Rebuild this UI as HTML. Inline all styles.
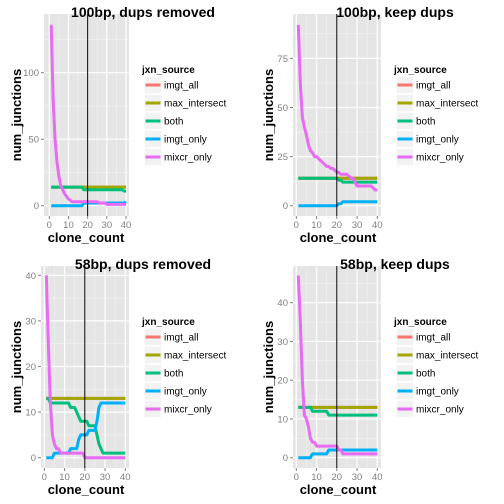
<!DOCTYPE html>
<html><head><meta charset="utf-8"><style>
body{margin:0;background:#fff;}
svg{display:block;font-family:"Liberation Sans",sans-serif;}
</style></head><body>
<svg id="chart" width="504" height="504" xmlns="http://www.w3.org/2000/svg"></svg>
<script>
const seriesNames = ["imgt_all","max_intersect","both","imgt_only","mixcr_only"];
const seriesColors = ["#F8766D","#A3A500","#00BF7D","#00B0F6","#E76BF3"];
const xTicks = [0,10,20,30,40];
const clones = Array.from({length:40},(_,i)=>i+1);

// Panel 1: 100bp, dups removed
const p1_max = Array(40).fill(14);
const p1_both = [14,14,14,14,14,14,14,14,14,14,14,14,14,14,14,14,14,12,12,12,12,12,12,12,12,12,12,12,12,12,12,12,12,12,12,12,12,12,11,11];
const p1_imgt = [0,0,0,0,0,0,0,0,0,0,0,0,0,0,0,0,0,2,2,2,2,2,2,2,2,2,2,2,2,2,2,2,2,2,2,2,2,2,2,3];
const p1_mixcr = [136,80,50,33,22,15,12,9,7,5,4,3,3,3,3,3,3,3,3,3,3,3,3,3,3,2,2,2,2,1,1,1,1,1,1,1,1,1,1,1];
const p1_yTicks = [0,50,100];
// Panel 2: 100bp, keep dups
const p2_max = Array(40).fill(14);
const p2_both = [14,14,14,14,14,14,14,14,14,14,14,14,14,14,14,14,14,14,14,14,13,13,12,12,12,12,12,12,12,12,12,12,12,12,12,12,12,12,12,12];
const p2_imgt = [0,0,0,0,0,0,0,0,0,0,0,0,0,0,0,0,0,0,0,0,1,1,2,2,2,2,2,2,2,2,2,2,2,2,2,2,2,2,2,2];
const p2_mixcr = [92,62,45,40,36,31,28,27,25,25,24,23,22,21,20,20,19,19,18,17,17,16,16,16,16,15,14,14,12,10,10,10,10,10,10,10,10,9,8,8];
const p2_yTicks = [0,25,50,75];
// Panel 3: 58bp, dups removed
const p3_max = Array(40).fill(13);
const p3_both = [13,13,12,12,12,12,12,12,12,12,12,12,11,11,11,10,9,8,8,8,8,7,7,7,7,5,3,2,1,1,1,1,1,1,1,1,1,1,1,1];
const p3_imgt = [0,0,0,0,1,1,1,1,1,1,1,1,2,2,2,2,4,5,5,5,5,6,6,6,6,8,11,12,12,12,12,12,12,12,12,12,12,12,12,12];
const p3_mixcr = [40,25,12,5,3,2,2,1,1,1,1,1,1,1,1,1,1,1,1,0,0,0,0,0,0,0,0,0,0,0,0,0,0,0,0,0,0,0,0,0];
const p3_yTicks = [0,10,20,30,40];
// Panel 4: 58bp, keep dups
const p4_max = Array(40).fill(13);
const p4_both = [13,13,13,13,13,13,13,12,12,12,12,12,12,12,12,11,11,11,11,11,11,11,11,11,11,11,11,11,11,11,11,11,11,11,11,11,11,11,11,11];
const p4_imgt = [0,0,0,0,0,0,0,1,1,1,1,1,1,1,1,2,2,2,2,2,2,2,2,2,2,2,2,2,2,2,2,2,2,2,2,2,2,2,2,2];
const p4_mixcr = [47,35,20,11,10,8,5,4,4,3,3,3,3,3,3,3,3,3,3,3,2,2,1,1,1,1,1,1,1,1,1,1,1,1,1,1,1,1,1,1];
const p4_yTicks = [0,10,20,30,40];

const panels = [
 {title:"100bp, dups removed",ox:0,oy:0,left:44,x0:49.3,x40:126,y0:205.7,yPer:1.33,yMinor:25,ticks:p1_yTicks,data:[p1_max,p1_max,p1_both,p1_imgt,p1_mixcr],name:"panel-100bp-dups-removed"},
 {title:"100bp, keep dups",ox:252,oy:0,left:41,x0:44.3,x40:125.3,y0:205.7,yPer:49.1/25,yMinor:12.5,ticks:p2_yTicks,data:[p2_max,p2_max,p2_both,p2_imgt,p2_mixcr],name:"panel-100bp-keep-dups"},
 {title:"58bp, dups removed",ox:0,oy:252,left:41,x0:44.3,x40:125.3,y0:205.7,yPer:4.56,yMinor:5,ticks:p3_yTicks,data:[p3_max,p3_max,p3_both,p3_imgt,p3_mixcr],name:"panel-58bp-dups-removed"},
 {title:"58bp, keep dups",ox:252,oy:252,left:41,x0:44.3,x40:125.3,y0:205.7,yPer:3.875,yMinor:5,ticks:p4_yTicks,data:[p4_max,p4_max,p4_both,p4_imgt,p4_mixcr],name:"panel-58bp-keep-dups"}
];
const NS="http://www.w3.org/2000/svg";
const svg=document.getElementById('chart');
function mk(tag,attrs,parent){const e=document.createElementNS(NS,tag);for(const k in attrs)e.setAttribute(k,attrs[k]);parent.appendChild(e);return e;}

panels.forEach(p=>{
  const g=mk('g',{transform:`translate(${p.ox},${p.oy})`},svg);
  
  
  const top=14,bottom=216,right=129;
  const sx=v=>p.x0+(p.x40-p.x0)*v/40;
  const sy=v=>p.y0-v*p.yPer;
  const bg=mk('rect',{x:p.left,y:top,width:right-p.left,height:bottom-top,fill:'#E5E5E5'},g);
  
  
  // minor grid
  for(let v=-5;v<=45;v+=10){const x=sx(v);if(x>p.left&&x<right)mk('line',{x1:x,x2:x,y1:top,y2:bottom,stroke:'#F2F2F2','stroke-width':0.6},g);}
  const maxT=p.ticks[p.ticks.length-1];
  for(let v=-p.yMinor;v<=maxT+2*p.yMinor;v+=p.yMinor){const y=sy(v);if(y>top&&y<bottom)mk('line',{x1:p.left,x2:right,y1:y,y2:y,stroke:'#F2F2F2','stroke-width':0.6},g);}
  // major grid + ticks
  xTicks.forEach(v=>{const x=sx(v);
    mk('line',{x1:x,x2:x,y1:top,y2:bottom,stroke:'#fff','stroke-width':1.2},g);
    mk('line',{x1:x,x2:x,y1:bottom,y2:bottom+3,stroke:'#7f7f7f','stroke-width':1},g);
    const t=mk('text',{x:x,y:bottom+12,'text-anchor':'middle','font-size':9.5,fill:'#7f7f7f'},g);t.textContent=v;
    
    
  });
  p.ticks.forEach(v=>{const y=sy(v);
    mk('line',{x1:p.left,x2:right,y1:y,y2:y,stroke:'#fff','stroke-width':1.2},g);
    mk('line',{x1:p.left-3,x2:p.left,y1:y,y2:y,stroke:'#7f7f7f','stroke-width':1},g);
    const t=mk('text',{x:p.left-5,y:y+3.5,'text-anchor':'end','font-size':9.5,fill:'#7f7f7f'},g);t.textContent=v;
    
    
  });
  // series
  p.data.forEach((arr,si)=>{
    const pts=arr.map((v,i)=>sx(clones[i]).toFixed(2)+','+sy(v).toFixed(2)).join(' ');
    const l=mk('polyline',{points:pts,fill:'none',stroke:seriesColors[si],'stroke-width':3,'stroke-linejoin':'round'},g);
    
    
  });
  const vl=mk('line',{x1:sx(20),x2:sx(20),y1:top,y2:bottom,stroke:'#000','stroke-width':1},g);
  
  
  const tt=mk('text',{x:143,y:17,'text-anchor':'middle','font-size':14,'font-weight':'bold',fill:'#000'},g);tt.textContent=p.title;
  
  
  const xt=mk('text',{x:86,y:242,'text-anchor':'middle','font-size':13,'font-weight':'bold',fill:'#000'},g);xt.textContent='clone_count';
  
  
  const yt=mk('text',{x:0,y:0,transform:'translate(21,115) rotate(-90)','text-anchor':'middle','font-size':13,'font-weight':'bold',fill:'#000'},g);yt.textContent='num_junctions';
  
  
  // legend
  const lt=mk('text',{x:142,y:73,'font-size':10,'font-weight':'bold',fill:'#000'},g);lt.textContent='jxn_source';
  
  
  seriesNames.forEach((n,i)=>{
    const cy=85+i*18;
    const kg=mk('g',{},g);
    
    
    mk('rect',{x:144.5,y:cy-8.5,width:17,height:17,fill:'#F2F2F2',stroke:'#fff','stroke-width':0.5},kg);
    mk('line',{x1:145.5,x2:160.5,y1:cy,y2:cy,stroke:seriesColors[i],'stroke-width':3},kg);
    const lb=mk('text',{x:164,y:cy+3.5,'font-size':10,fill:'#000'},kg);lb.textContent=n;
  });
});
</script>
</body></html>
